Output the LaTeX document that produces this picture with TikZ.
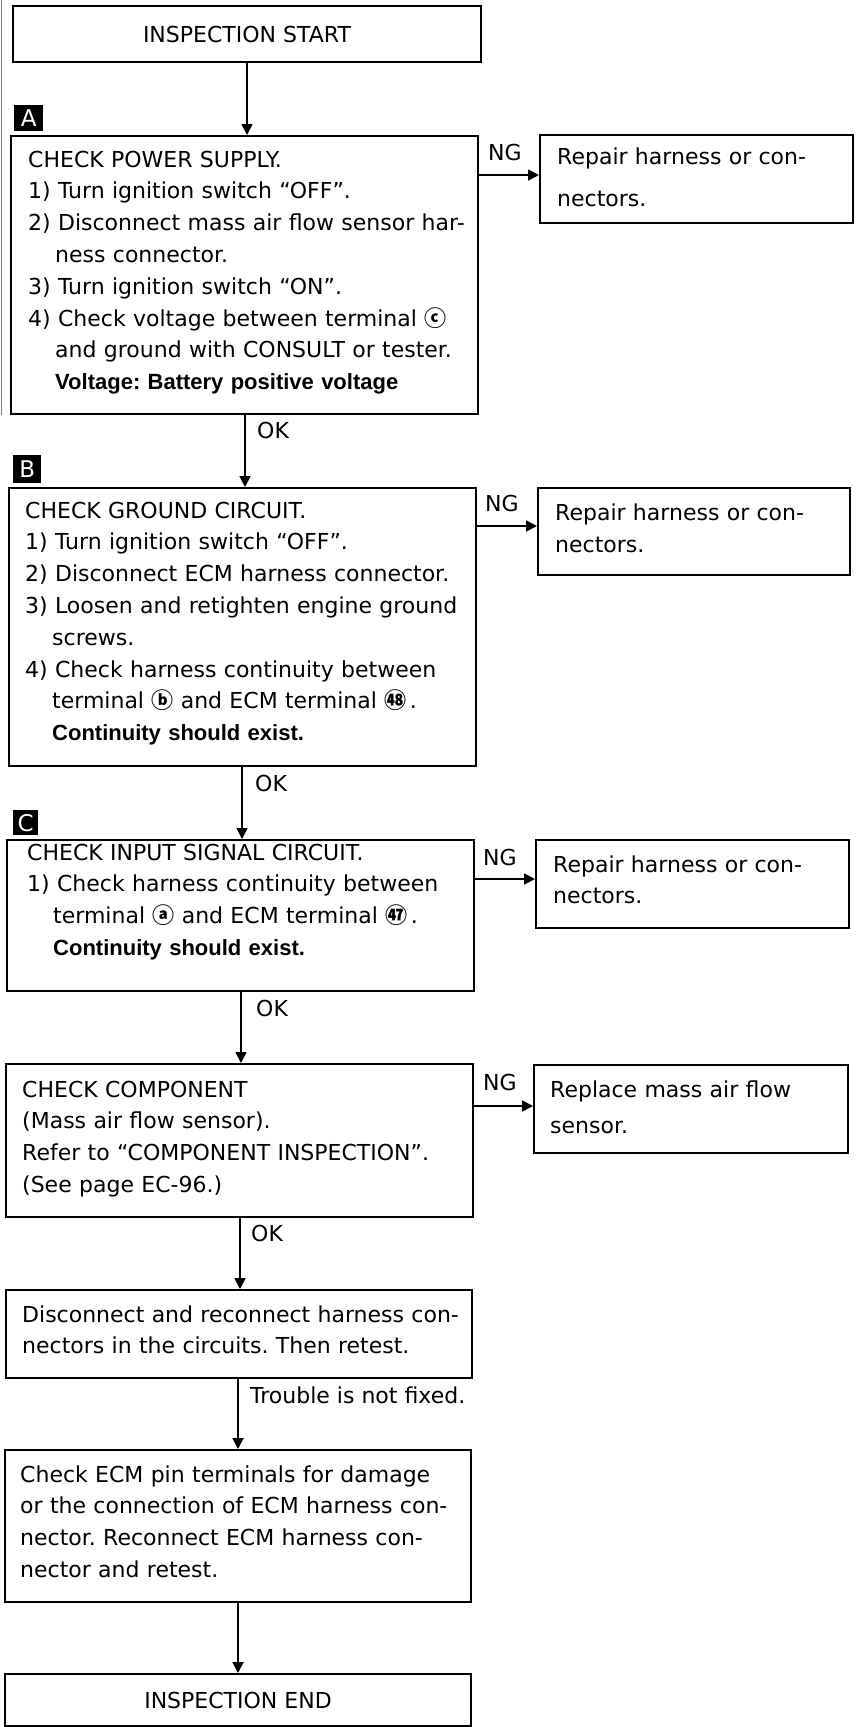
\documentclass[tikz,border=0pt]{standalone}
\usepackage{fontspec}
\setmainfont{DejaVu Sans}
\newfontfamily\hfam{Liberation Sans}
\newfontfamily\cjkfont{Noto Sans CJK JP}
\usetikzlibrary{arrows.meta}
\newcommand{\bld}[1]{{\hfam\bfseries #1}}
\newcommand{\cnum}[1]{{\cjkfont\bfseries #1}}
\frenchspacing
\begin{document}
\begin{tikzpicture}[x=1pt,y=-1pt,
  box/.style={draw, line width=2pt, inner sep=0pt, anchor=north west},
  txt/.style={anchor=base west, inner sep=0pt, text width=470pt, align=left, font=\fontsize{22pt}{31.8pt}\selectfont\frenchspacing},
  lbl/.style={anchor=west, inner sep=0pt, font=\fontsize{22pt}{26pt}\selectfont},
  ctr/.style={inner sep=0pt, font=\fontsize{22pt}{26pt}\selectfont},
  tagbox/.style={fill=black, text=white, inner sep=0pt, anchor=north west, font=\fontsize{23pt}{23pt}\selectfont},
  arr/.style={line width=1.8pt, -{Triangle[length=11pt,width=11pt]}}]
\useasboundingbox (0,0) rectangle (858,1727);
\draw[gray, line width=1pt] (1,0) -- (1,415);

% boxes
\node[box, minimum width=468pt, minimum height=56pt] (start) at (12,5) {};
\node[box, minimum width=467pt, minimum height=278pt] (A) at (10,135) {};
\node[box, minimum width=313pt, minimum height=88pt] (ngA) at (539,134) {};
\node[box, minimum width=467pt, minimum height=278pt] (B) at (8,487) {};
\node[box, minimum width=312pt, minimum height=87pt] (ngB) at (537,487) {};
\node[box, minimum width=467pt, minimum height=151pt] (C) at (6,839) {};
\node[box, minimum width=313pt, minimum height=88pt] (ngC) at (535,839) {};
\node[box, minimum width=467pt, minimum height=153pt] (D) at (5,1063) {};
\node[box, minimum width=314pt, minimum height=88pt] (ngD) at (533,1064) {};
\node[box, minimum width=466pt, minimum height=88pt] (E) at (5,1289) {};
\node[box, minimum width=466pt, minimum height=152pt] (F) at (4,1449) {};
\node[box, minimum width=466pt, minimum height=52pt] (fin) at (4,1673) {};

% tags
\node[tagbox, minimum width=29pt, minimum height=26pt] (tagA) at (14,105) {A};
\node[tagbox, minimum width=28pt, minimum height=28pt] (tagB) at (13,455) {B};
\node[tagbox, minimum width=25pt, minimum height=25pt] (tagC) at (13,810) {C};

% texts
\node[ctr] (startT) at (start.center) {INSPECTION START};
\node[ctr] (finT) at (fin.center) {INSPECTION END};

\node[txt] (tA) at (28,167) {CHECK POWER SUPPLY.\\
1) Turn ignition switch “OFF”.\\
2) Disconnect mass air flow sensor har-\\
\hspace*{27pt}ness connector.\\
3) Turn ignition switch “ON”.\\
4) Check voltage between terminal \cnum{ⓒ}\\
\hspace*{27pt}and ground with CONSULT or tester.\\
\hspace*{27pt}\bld{Voltage: Battery positive voltage}};

\node[txt] (tB) at (25,518) {CHECK GROUND CIRCUIT.\\
1) Turn ignition switch “OFF”.\\
2) Disconnect ECM harness connector.\\
3) Loosen and retighten engine ground\\
\hspace*{27pt}screws.\\
4) Check harness continuity between\\
\hspace*{27pt}terminal \cnum{ⓑ} and ECM terminal \cnum{㊽}\,.\\
\hspace*{27pt}\bld{Continuity should exist.}};

\node[txt] (tC) at (27,860) {CHECK INPUT SIGNAL CIRCUIT.\\
1) Check harness continuity between\\
\hspace*{26pt}terminal \cnum{ⓐ} and ECM terminal \cnum{㊼}\,.\\
\hspace*{26pt}\bld{Continuity should exist.}};

\node[txt] (tD) at (22,1097) {CHECK COMPONENT\\
(Mass air flow sensor).\\
Refer to “COMPONENT INSPECTION”.\\
(See page EC-96.)};

\node[txt, font=\fontsize{22pt}{31pt}\selectfont\frenchspacing] (tE) at (22,1322) {Disconnect and reconnect harness con-\\
nectors in the circuits. Then retest.};

\node[txt] (tF) at (20,1482) {Check ECM pin terminals for damage\\
or the connection of ECM harness con-\\
nector. Reconnect ECM harness con-\\
nector and retest.};

\node[txt, font=\fontsize{22pt}{42pt}\selectfont] (tngA) at (557,164) {Repair harness or con-\\nectors.};
\node[txt, font=\fontsize{22pt}{32pt}\selectfont] (tngB) at (555,520) {Repair harness or con-\\nectors.};
\node[txt, font=\fontsize{22pt}{31pt}\selectfont] (tngC) at (553,872) {Repair harness or con-\\nectors.};
\node[txt, font=\fontsize{22pt}{36pt}\selectfont] (tngD) at (550,1097) {Replace mass air flow\\sensor.};

% labels
\node[lbl] (okA) at (257,430) {OK};
\node[lbl] (okB) at (255,783) {OK};
\node[lbl] (okC) at (256,1008) {OK};
\node[lbl] (okD) at (251,1233) {OK};
\node[lbl] (trb) at (250,1395) {Trouble is not fixed.};
\node[lbl] (ngAl) at (488,152) {NG};
\node[lbl] (ngBl) at (485,503) {NG};
\node[lbl] (ngCl) at (483,857) {NG};
\node[lbl] (ngDl) at (483,1082) {NG};

% vertical connectors
\coordinate (x1) at (247,0);
\coordinate (x2) at (245,0);
\coordinate (x3) at (242,0);
\coordinate (x4) at (241,0);
\coordinate (x5) at (240,0);
\coordinate (x6) at (238,0);
\coordinate (x7) at (238,0);
\draw[arr] (start.south -| x1) -- (A.north -| x1);
\draw[arr] (A.south -| x2) -- (B.north -| x2);
\draw[arr] (B.south -| x3) -- (C.north -| x3);
\draw[arr] (C.south -| x4) -- (D.north -| x4);
\draw[arr] (D.south -| x5) -- (E.north -| x5);
\draw[arr] (E.south -| x6) -- (F.north -| x6);
\draw[arr] (F.south -| x7) -- (fin.north -| x7);

% NG connectors
\coordinate (inA) at ([yshift=4pt]ngA.west);
\coordinate (inB) at ([yshift=5.5pt]ngB.west);
\coordinate (inC) at ([yshift=5pt]ngC.west);
\coordinate (inD) at ([yshift=3pt]ngD.west);
\draw[arr] (A.east |- inA) -- (inA);
\draw[arr] (B.east |- inB) -- (inB);
\draw[arr] (C.east |- inC) -- (inC);
\draw[arr] (D.east |- inD) -- (inD);
\end{tikzpicture}
\end{document}
